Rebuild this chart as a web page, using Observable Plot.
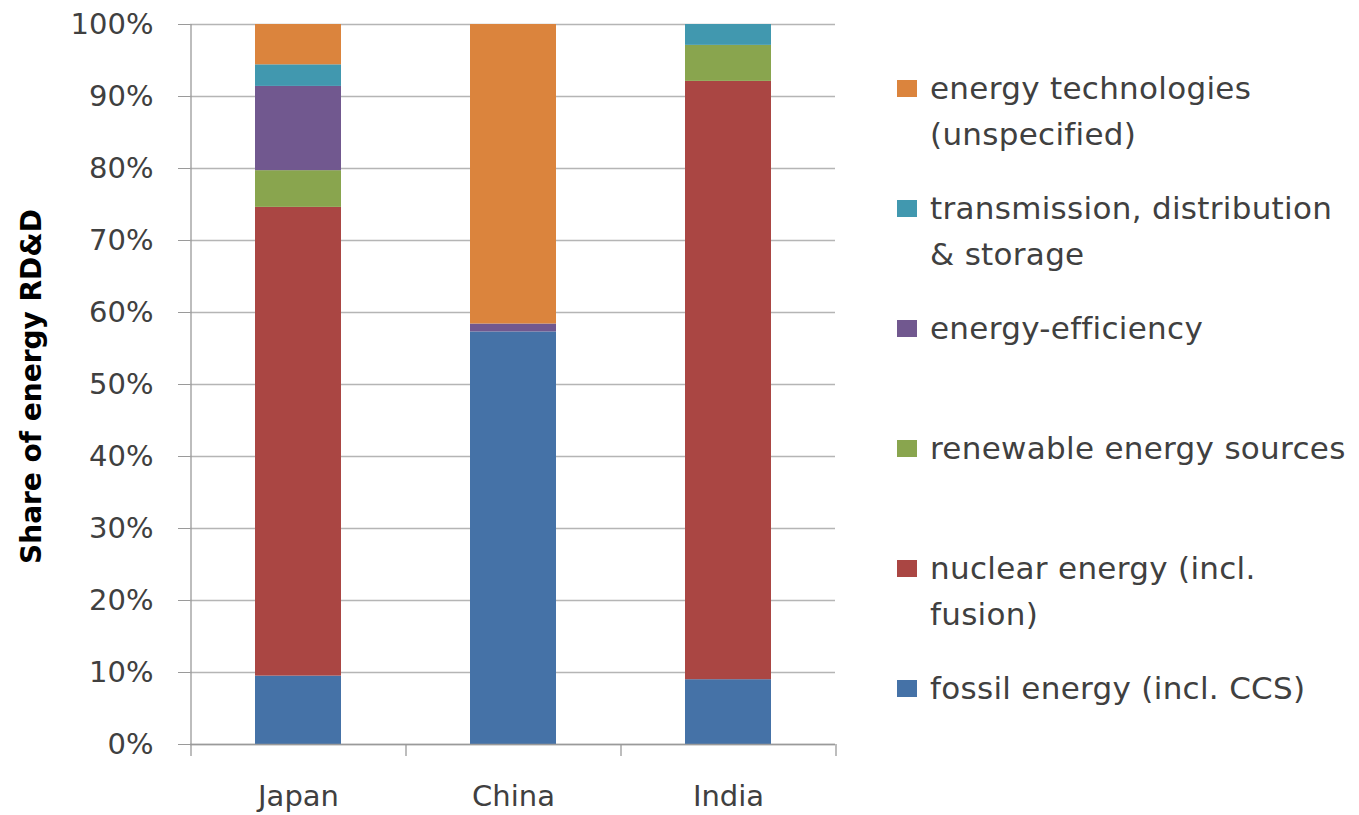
<!DOCTYPE html>
<html><head><meta charset="utf-8">
<script src="https://cdn.jsdelivr.net/npm/d3@7"></script>
<script src="https://cdn.jsdelivr.net/npm/@observablehq/plot@0.6"></script>
<style>
body{margin:0;background:#fff;}
#wrap{position:relative;width:1359px;height:815px;font-family:"DejaVu Sans",sans-serif;}
#legend{position:absolute;left:897px;top:0;}
.item{position:absolute;left:0;display:flex;align-items:flex-start;width:460px;}
.sw{width:20px;height:17px;margin-top:15px;flex:none;}
.lab{margin-left:13px;font-size:31px;letter-spacing:0.3px;line-height:46px;color:#404040;white-space:pre-line;}
</style>
</head><body>
<div id="wrap"><div id="legend"></div></div>
<script>
const countries = ["Japan", "China", "India"];
const series = ["fossil energy (incl. CCS)", "nuclear energy (incl. fusion)", "renewable energy sources", "energy-efficiency", "transmission, distribution & storage", "energy technologies (unspecified)"];
const legendLabels = ["fossil energy (incl. CCS)", "nuclear energy (incl.\nfusion)", "renewable energy sources", "energy-efficiency", "transmission, distribution\n& storage", "energy technologies\n(unspecified)"];
const colors = ["#4572A7", "#AA4643", "#89A54E", "#71588F", "#4198AF", "#DB843D"];
const fossil = [9.5, 57.3, 9.0];
const nuclear = [65.1, 0, 83.1];
const renewable = [5.1, 0, 5.0];
const efficiency = [11.7, 1.1, 0];
const transmission = [3.0, 0, 2.9];
const unspecified = [5.6, 41.6, 0];
const yTicks = [0, 10, 20, 30, 40, 50, 60, 70, 80, 90, 100];
const yTitle = "Share of energy RD&D";

const values = [fossil, nuclear, renewable, efficiency, transmission, unspecified];
const rows = [];
series.forEach((s, i) => countries.forEach((c, j) => rows.push({country: c, series: s, value: values[i][j]})));

const W = 1359, H = 815, mL = 190, mR = 524, mT = 24, mB = 71;
const step = (W - mL - mR) / countries.length;
const axisColor = "#9a9a9a";

const chart = Plot.plot({
  width: W, height: H,
  marginLeft: mL, marginRight: mR, marginTop: mT, marginBottom: mB,
  style: {fontFamily: "DejaVu Sans", fontSize: "29px", color: "#404040", background: "white"},
  x: {domain: countries, paddingInner: 0.6, paddingOuter: 0.3, label: null},
  y: {domain: [0, 100], label: null},
  color: {domain: series, range: colors},
  marks: [
    Plot.ruleY(yTicks, {stroke: "#b5b5b5", strokeWidth: 1.3}),
    Plot.barY(rows, {x: "country", y: "value", fill: "series"}),
    Plot.ruleY([0], {stroke: axisColor, strokeWidth: 1.3}),
    Plot.ruleX([countries[0]], {x: d => d, dx: -step / 2, y1: 100, y2: 0, insetBottom: -12, stroke: axisColor, strokeWidth: 1.3}),
    Plot.ruleX(countries, {x: d => d, dx: step / 2, y1: 0, y2: 0, insetBottom: -12, stroke: axisColor, strokeWidth: 1.3}),
    Plot.axisY({ticks: yTicks, tickSize: 12, tickPadding: 25, tickFormat: d => d + "%", stroke: axisColor, label: null}),
    Plot.axisX({tickSize: 0, tickPadding: 41, label: null}),
    Plot.text([yTitle], {text: d => d, frameAnchor: "left", textAnchor: "middle", dx: -158, dy: 2, rotate: -90, fontWeight: "bold", fontSize: 28, fill: "#000"})
  ]
});
document.getElementById("wrap").prepend(chart);

const legend = document.getElementById("legend");
const order = [5, 4, 3, 2, 1, 0];
order.forEach((k, i) => {
  const item = document.createElement("div");
  item.className = "item";
  item.style.top = (65 + 120 * i) + "px";
  const sw = document.createElement("div");
  sw.className = "sw";
  sw.style.background = colors[k];
  const lab = document.createElement("div");
  lab.className = "lab";
  lab.textContent = legendLabels[k];
  item.append(sw, lab);
  legend.append(item);
});
</script>
</body></html>
